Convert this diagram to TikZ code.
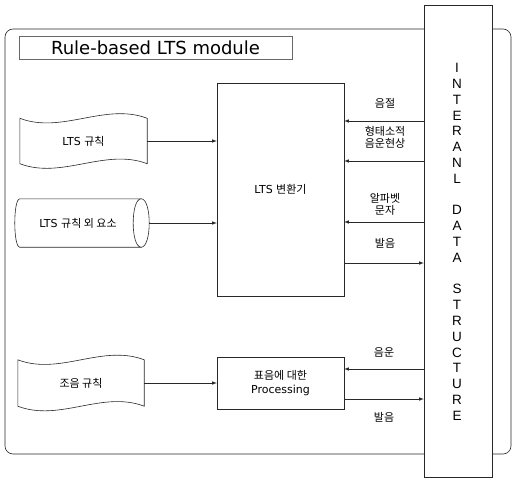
\documentclass[tikz,border=0pt]{standalone}
\usepackage{fontspec}
\usepackage{xcolor}
\usepackage{tikz}
\setmainfont{DejaVu Sans}
\newfontfamily\kr{Noto Sans CJK KR}
\newfontfamily\idsfont{Liberation Sans}
\usetikzlibrary{shapes.geometric, arrows, positioning, calc}
\definecolor{border}{RGB}{40, 40, 40}
\tikzstyle{arrow} = [semithick,->,>=latex, color=border]
\tikzstyle{block} = [rectangle, draw=border, fill=white, align=center, font=\fontsize{11}{14}\selectfont]
\tikzstyle{holder} = [rectangle, align=center, font=\fontsize{11}{14}\selectfont]
\tikzstyle{outline} = [draw=border, semithick, fill=white]
\tikzstyle{lbl} = [align=center, font=\kr\fontsize{11}{12}\selectfont]

\begin{document}
\begin{tikzpicture}[x=1pt, y=-1pt]
    \useasboundingbox (0,0) rectangle (514,479);
    % module frame
    \draw [border, semithick, rounded corners=8pt] (5,29) rectangle (511,454);
    \node (title) [block, draw=border!70, minimum width=273pt, minimum height=23pt, font=\fontsize{18}{20}\selectfont] at (155.5,47.5) {Rule-based LTS module};

    \node (conv) [block, minimum width=127pt, minimum height=213pt] at (280.5,189.5) {LTS {\kr 변환기}};
    \node (proc) [block, minimum width=127pt, minimum height=52pt] at (280.5,383) {{\kr 표음에 대한}\\Processing};

    % wavy documents and the store
    \node (ltsrule) [holder, minimum width=127pt, minimum height=45pt] at (83.5,141) {};
    \node (extra) [holder, minimum width=134pt, minimum height=48pt] at (82,223) {};
    \node (artrule) [holder, minimum width=126pt, minimum height=46pt] at (81,383) {};
    \foreach \doc in {ltsrule, artrule}
        \draw [outline] (\doc.north west) .. controls +(42pt,-16pt) and +(-42pt,16pt) .. (\doc.north east)
            -- (\doc.south east) .. controls +(-42pt,16pt) and +(42pt,-16pt) .. (\doc.south west) -- cycle;
    \draw [outline] ([xshift=5pt]extra.north west) -- ([xshift=-8pt]extra.north east)
        -- ([xshift=-8pt]extra.south east) -- ([xshift=5pt]extra.south west)
        .. controls +(-6.7pt,0pt) and +(-6.7pt,0pt) .. cycle;
    \draw [outline] ([xshift=-8pt]extra.north east) .. controls +(10.7pt,0pt) and +(10.7pt,0pt) .. ([xshift=-8pt]extra.south east)
        .. controls +(-10.7pt,0pt) and +(-10.7pt,0pt) .. cycle;
    \node [holder] at (ltsrule) {LTS {\kr 규칙}};
    \node [holder] at ([xshift=-4pt]extra.center) {LTS {\kr 규칙 외 요소}};
    \node [holder] at (artrule) {\kr 조음 규칙};

    % internal data structure
    \node (ids) [rectangle, draw=border, fill=white, minimum width=68pt, minimum height=472pt] at (458,241) {};
    \foreach \ch [count=\i] in {I,N,T,E,R,A,N,L,,D,A,T,A,,S,T,R,U,C,T,U,R,E}
        \node (ch\i) [font=\idsfont\fontsize{13.5}{14}\selectfont] at (457,{68+(\i-1)*15.8}) {\ch};

    \coordinate (r1) at (0,121);
    \coordinate (r2) at (0,161);
    \coordinate (r3) at (0,222);
    \coordinate (r4) at (0,263);
    \coordinate (p1) at (0,369);
    \coordinate (p2) at (0,399);

    \draw [arrow] (ltsrule.east) -- (conv.west |- ltsrule.east);
    \draw [arrow] (extra.east) -- (conv.west |- extra.east);
    \draw [arrow] (artrule.east) -- (proc.west |- artrule.east);

    \draw [arrow] (ids.west |- r1) -- (conv.east |- r1);
    \draw [arrow] (ids.west |- r2) -- (conv.east |- r2);
    \draw [arrow] (ids.west |- r3) -- (conv.east |- r3);
    \draw [arrow] (conv.east |- r4) -- (ids.west |- r4);
    \draw [arrow] (ids.west |- p1) -- (proc.east |- p1);
    \draw [arrow] (proc.east |- p2) -- (ids.west |- p2);

    \node (syl) [lbl] at (385,103) {음절};
    \node (morph) [lbl] at (385,137) {형태소적\\음운현상};
    \node (alpha) [lbl] at (385,204) {알파벳\\문자};
    \node (pron) [lbl] at (385,243) {발음};
    \node (phon) [lbl] at (384,352) {음운};
    \node (pron2) [lbl] at (384,417) {발음};
\end{tikzpicture}
\end{document}
